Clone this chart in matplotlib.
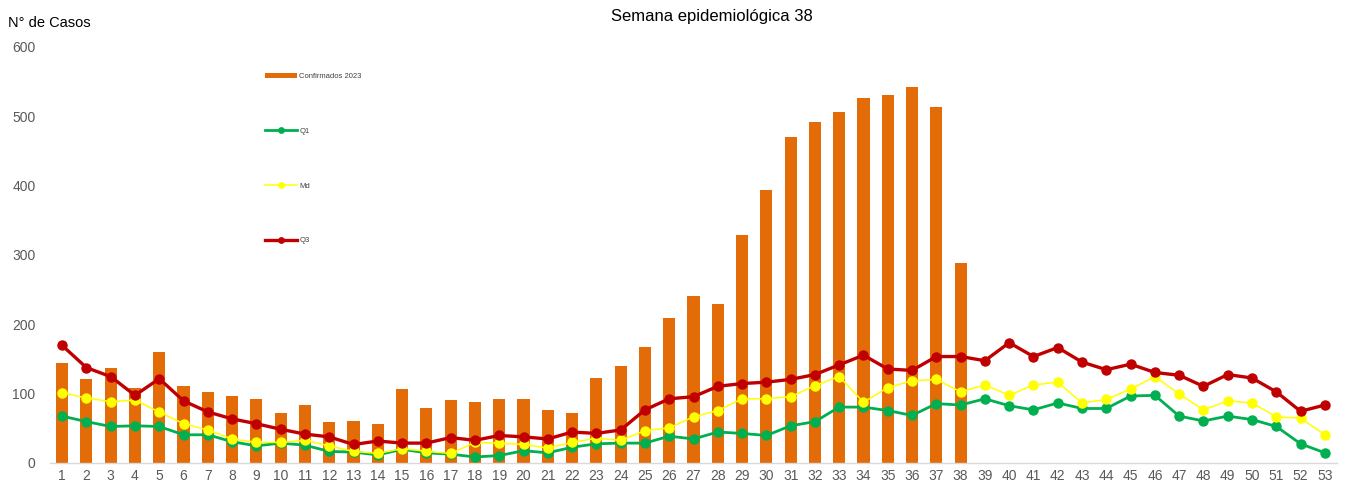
import matplotlib
matplotlib.use("Agg")
import matplotlib.pyplot as plt
import numpy as np

weeks = list(range(1, 54))
confirmados_2023 = [143, 121, 137, 108, 160, 111, 102, 96, 92, 71, 83, 58, 60, 56, 106, 79, 90, 88, 92, 91,
                    76, 72, 122, 140, 167, 209, 241, 229, 329, 394, 470, 492, 506, 526, 531, 542, 514, 288]
q1 = [67, 59, 52, 53, 52, 40, 40, 30, 24, 28, 25, 16, 15, 11, 19, 14, 12, 8, 10, 17,
      14, 22, 27, 28, 28, 38, 34, 44, 42, 39, 53, 59, 80, 80, 75, 68, 85, 83, 92, 82,
      76, 86, 78, 78, 96, 97, 67, 60, 67, 62, 52, 27, 14]
md = [101, 93, 88, 90, 73, 56, 47, 34, 29, 29, 32, 24, 16, 13, 20, 16, 13, 29, 28, 26,
      21, 29, 35, 32, 46, 50, 66, 75, 92, 92, 95, 111, 124, 87, 108, 118, 120, 102, 112, 97,
      112, 116, 86, 91, 106, 124, 99, 76, 89, 86, 66, 64, 40]
q3 = [169, 137, 124, 97, 121, 89, 73, 63, 56, 48, 41, 37, 26, 31, 28, 28, 36, 32, 39, 37,
      34, 44, 42, 47, 76, 92, 95, 110, 114, 116, 120, 127, 141, 155, 135, 133, 153, 153, 147, 173,
      153, 166, 145, 134, 142, 130, 126, 110, 127, 122, 102, 74, 83]

plt.rcParams['font.family'] = ['Liberation Sans', 'DejaVu Sans']

fig = plt.figure(figsize=(13.45, 4.83), dpi=100)
ax = fig.add_axes([50/1345, 1-462.5/483, (1337-50)/1345, (462.5-47)/483])

hb = ax.bar(weeks[:len(confirmados_2023)], confirmados_2023, width=0.5, color='#E36C09',
            label='Confirmados 2023', zorder=2)
h1, = ax.plot(weeks, q1, color='#00B050', lw=2.0, marker='o', ms=6.5, label='Q1', zorder=3)
h2, = ax.plot(weeks, md, color='#FFFF00', lw=1.1, marker='o', ms=6.5, label='Md', zorder=4)
h3, = ax.plot(weeks, q3, color='#C00000', lw=2.4, marker='o', ms=6.5, label='Q3', zorder=5)

ax.set_xlim(0.5, 53.5)
ax.set_ylim(0, 600)
ax.set_xticks(weeks)
ax.set_xticklabels([str(w) for w in weeks])
ax.set_yticks([0, 100, 200, 300, 400, 500, 600])
ax.tick_params(axis='both', length=0, labelsize=10, colors='#595959')
ax.tick_params(axis='y', pad=10.5)
ax.tick_params(axis='x', pad=5)
for s in ['top', 'right', 'left']:
    ax.spines[s].set_visible(False)
ax.spines['bottom'].set_color('#D9D9D9')
ax.spines['bottom'].set_linewidth(1)

fig.text(712/1345, 1-16/483, 'Semana epidemiológica 38', ha='center', va='center', fontsize=12, color='#000000')
fig.text(8/1345, 1-23/483, 'N° de Casos', ha='left', va='center', fontsize=10.5, color='#000000')

leg = ax.legend([hb, h1, h2, h3], ['Confirmados 2023', 'Q1', 'Md', 'Q3'],
                loc='upper left', bbox_to_anchor=(258/1345, 1-66/483), bbox_transform=fig.transFigure,
                frameon=False, fontsize=5.5, labelspacing=6.2, handlelength=4.2, handletextpad=0.3,
                markerscale=0.6)
for t in leg.get_texts():
    t.set_color('#404040')

fig.savefig('out.png', dpi=100)
